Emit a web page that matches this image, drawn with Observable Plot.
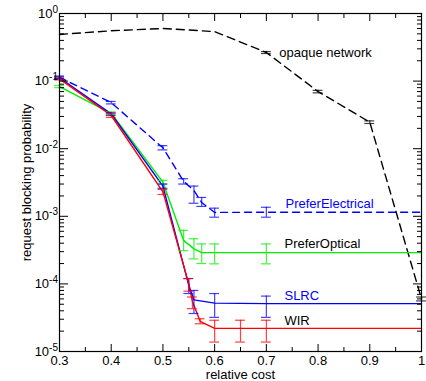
<!DOCTYPE html>
<html><head><meta charset="utf-8">
<script src="https://cdn.jsdelivr.net/npm/d3@7"></script>
<script src="https://cdn.jsdelivr.net/npm/@observablehq/plot@0.6"></script>
<style>body{margin:0;background:#fff} #chart svg{display:block}</style>
</head><body><div id="chart"></div>
<script>
// ---- data ----
const xMajor = [0.3,0.4,0.5,0.6,0.7,0.8,0.9,1.0];
const xMinor = [0.35,0.45,0.55,0.65,0.75,0.85,0.95];
const yMajor = [1e-5,1e-4,1e-3,1e-2,1e-1,1];
const yMinorMult = [2,3,4,5,6,7,8,9];

const opaqueX  = [0.3,0.4,0.5,0.6,0.7,0.8,0.9,1.0];
const opaqueY  = [0.49,0.555,0.6,0.54,0.265,0.07,0.0247,0.00006];
const opaqueLo = [null,null,null,null,0.256,0.067,0.0236,0.000056];
const opaqueHi = [null,null,null,null,0.274,0.073,0.0258,0.000064];

const peX  = [0.3,0.4,0.5,0.54,0.56,0.575,0.6,0.7,1.0];
const peY  = [0.114,0.048,0.0103,0.0033,0.0024,0.0016,0.00114,0.00115,0.00115];
const peLo = [0.109,0.046,0.0096,0.0030,0.00156,0.0014,0.00097,0.00097,null];
const peHi = [0.119,0.050,0.0111,0.0036,0.0028,0.0019,0.00132,0.00136,null];

const poX  = [0.3,0.4,0.5,0.54,0.56,0.575,0.6,0.7,1.0];
const poY  = [0.083,0.0334,0.0032,0.00044,0.00033,0.00029,0.00029,0.00029,0.00029];
const poLo = [0.080,0.032,0.0030,0.00031,0.000234,0.0002,0.000198,0.000198,null];
const poHi = [0.086,0.035,0.0034,0.00062,0.000465,0.00039,0.00039,0.00039,null];

const slX  = [0.3,0.4,0.5,0.55,0.56,0.6,0.7,1.0];
const slY  = [0.112,0.0327,0.0028,0.000095,0.000058,0.000052,0.000051,0.000051];
const slLo = [0.108,0.031,0.0026,0.000072,0.0000365,0.000032,0.000032,null];
const slHi = [0.116,0.034,0.0030,0.00012,0.00008,0.000072,0.000066,null];

const wirX  = [0.3,0.4,0.5,0.55,0.557,0.572,0.6,0.65,0.7,1.0];
const wirY  = [0.108,0.031,0.0023,0.0001,0.000055,0.000028,0.000022,0.000022,0.000022,0.000022];
const wirLo = [0.104,0.029,0.0021,0.000078,0.000043,0.0000257,0.0000138,0.0000138,0.0000138,null];
const wirHi = [0.112,0.033,0.0025,0.00012,0.000064,0.0000305,0.000029,0.000029,0.000029,null];

const labelText  = ["opaque network","PreferElectrical","PreferOptical","SLRC","WIR"];
const labelX     = [0.725,0.737,0.735,0.735,0.735];
const labelY     = [0.26,0.00155,0.00039,0.000067,0.000028];
const labelColor = ["#000000","#0000ff","#000000","#0000ff","#000000"];

// ---- build tables ----
function rows(X, Y, Lo, Hi) {
  return X.map((x, i) => ({x, y: Y[i], lo: Lo[i], hi: Hi[i]}));
}
const series = [
  {data: rows(opaqueX, opaqueY, opaqueLo, opaqueHi), color: "#000000", dash: "8,5"},
  {data: rows(peX, peY, peLo, peHi), color: "#0000ff", dash: "7,5"},
  {data: rows(poX, poY, poLo, poHi), color: "#00f000", dash: null},
  {data: rows(slX, slY, slLo, slHi), color: "#0000ff", dash: null},
  {data: rows(wirX, wirY, wirLo, wirHi), color: "#ff0000", dash: null}
];
const yMinor = [];
for (const d of yMajor.slice(0, -1)) for (const m of yMinorMult) yMinor.push(d * m);
const labels = labelText.map((t, i) => ({t, x: labelX[i], y: labelY[i], c: labelColor[i]}));
const cap = 0.0095;

const marks = [];
for (const s of series) {
  marks.push(Plot.line(s.data, {x: "x", y: "y", stroke: s.color, strokeWidth: 1.4, strokeDasharray: s.dash}));
}
for (const s of series) {
  const eb = s.data.filter(d => d.lo != null);
  marks.push(Plot.ruleX(eb, {x: "x", y1: "lo", y2: "hi", stroke: s.color, strokeWidth: 1.2, strokeOpacity: 0.75}));
  marks.push(Plot.ruleY(eb, {y: "lo", x1: d => d.x - cap, x2: d => d.x + cap, stroke: s.color, strokeWidth: 1.2, strokeOpacity: 0.75}));
  marks.push(Plot.ruleY(eb, {y: "hi", x1: d => d.x - cap, x2: d => d.x + cap, stroke: s.color, strokeWidth: 1.2, strokeOpacity: 0.75}));
}
marks.push(Plot.text(labels, {x: "x", y: "y", text: "t", fill: "c", textAnchor: "start", fontSize: 13}));

// axes: tick-only (inward) and text-only
for (const a of ["bottom", "top"]) {
  marks.push(Plot.axisX({anchor: a, ticks: xMajor, tickSize: -7, fill: "none", label: null}));
  marks.push(Plot.axisX({anchor: a, ticks: xMinor, tickSize: -4, fill: "none", label: null}));
}
for (const a of ["left", "right"]) {
  marks.push(Plot.axisY({anchor: a, ticks: yMajor, tickSize: -9, fill: "none", label: null}));
  marks.push(Plot.axisY({anchor: a, ticks: yMinor, tickSize: -5, fill: "none", label: null}));
}
marks.push(Plot.axisX({anchor: "bottom", ticks: xMajor, tickSize: 0, tickPadding: 4, fontSize: 13,
  tickFormat: d => d === 1 ? "1" : d.toFixed(1),
  label: "relative cost", labelAnchor: "center", labelOffset: 27, labelArrow: "none"}));
marks.push(Plot.axisY({anchor: "left", ticks: yMajor, tickSize: 0, tickPadding: 1.5, fontSize: 13,
  tickFormat: d => "10^" + Math.round(Math.log10(d)),
  label: "request blocking probability", labelAnchor: "center", labelOffset: 38, labelArrow: "none"}));
marks.push(Plot.frame({stroke: "black", strokeWidth: 1.2}));

const chart = Plot.plot({
  width: 426, height: 381,
  marginLeft: 59, marginRight: 5, marginTop: 13, marginBottom: 30,
  style: {fontFamily: "'Liberation Sans', Arial, Helvetica, sans-serif", fontSize: "13px", background: "white", color: "black"},
  x: {domain: [0.3, 1.0]},
  y: {type: "log", domain: [1e-5, 1]},
  marks
});
document.getElementById("chart").appendChild(chart);

// superscript exponents on y tick labels
chart.querySelectorAll('g[aria-label="y-axis tick label"] text').forEach(t => {
  const s = t.textContent;
  if (!s.startsWith("10^")) return;
  const exp = s.slice(3);
  t.textContent = "10";
  const ts = document.createElementNS("http://www.w3.org/2000/svg", "tspan");
  ts.setAttribute("dy", "-0.5em");
  ts.setAttribute("font-size", "10");
  ts.textContent = exp;
  t.appendChild(ts);
});
</script></body></html>
